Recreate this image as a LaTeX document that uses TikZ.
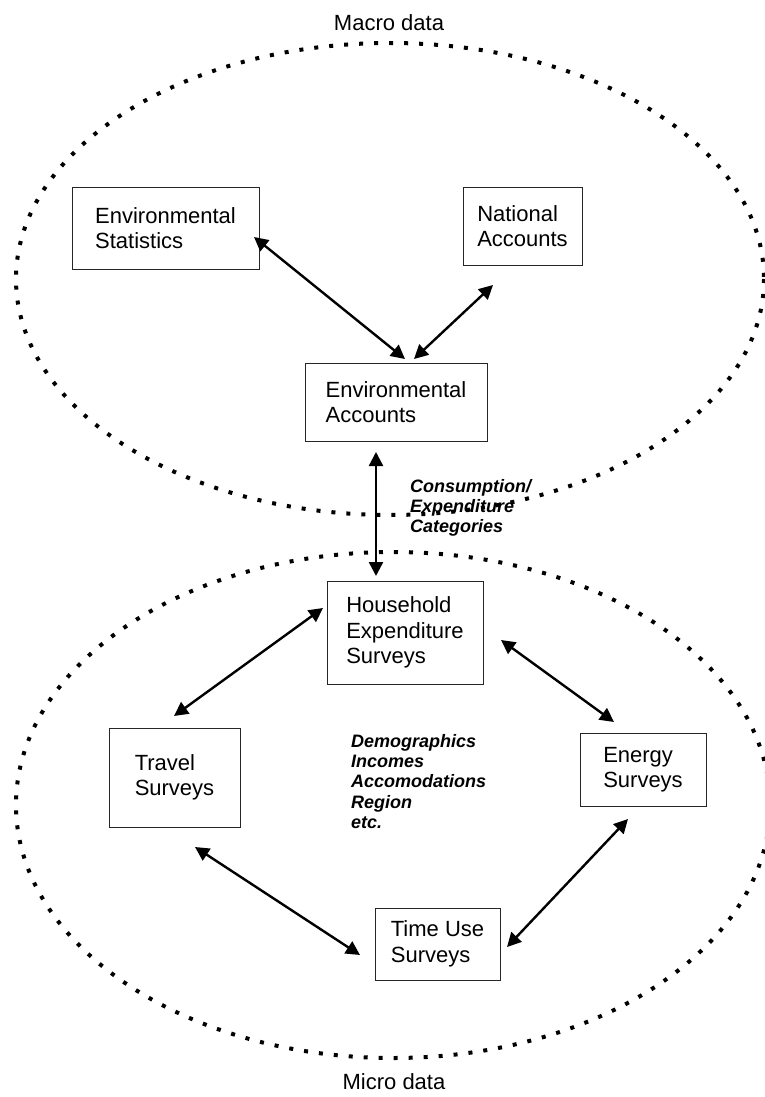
\documentclass[tikz,border=0pt]{standalone}
\usepackage{fontspec}
\setmainfont{Liberation Sans}
\usetikzlibrary{arrows.meta}
\begin{document}
\begin{tikzpicture}[x=1pt,y=-1pt,
  box/.style={draw=black!85, line width=1pt, inner sep=0pt, align=left,
    font=\fontsize{22}{25.5}\selectfont},
  link/.style={line width=2.4pt,
    {Triangle[length=14pt,width=14pt]}-{Triangle[length=14pt,width=14pt]}},
  region/.style={line width=4pt, dash pattern=on 4pt off 11pt},
  note/.style={font=\fontsize{18}{20.3}\selectfont\bfseries\itshape,
    align=left, inner sep=0pt, anchor=north west},
  caption/.style={font=\fontsize{22}{25}\selectfont, inner sep=0pt}]
\useasboundingbox (0,0) rectangle (765,1097);
\clip (0,0) rectangle (765,1097);

% dotted regions: macro level (top) and micro level (bottom)
\draw[region] (390,279) ellipse [x radius=374, y radius=236];
\draw[region] (393,805) ellipse [x radius=377, y radius=253];

\node[caption] (macro) at (389,23) {Macro data};
\node[caption] (micro) at (394,1082) {Micro data};

% data sources
\node[box, minimum width=187, minimum height=82] (es) at (165.5,228)
  {Environmental\\Statistics};
\node[box, minimum width=119, minimum height=78] (na) at (522.5,226)
  {National\\Accounts};
\node[box, minimum width=182, minimum height=78] (ea) at (396,402)
  {Environmental\\Accounts};
\node[box, minimum width=156, minimum height=103] (hh) at (405,632.5)
  {Household\\Expenditure\\Surveys};
\node[box, minimum width=131, minimum height=99] (tr) at (174.5,777.5)
  {Travel\\Surveys};
\node[box, minimum width=126, minimum height=73] (en) at (643,769.5)
  {Energy\\Surveys};
\node[box, minimum width=125, minimum height=72] (tu) at (437.5,944)
  {Time Use\\Surveys};

% annotations
\node[note] (cat) at (410,479) {Consumption/\\Expenditure\\Categories};
\node[note] (demo) at (351,734) {Demographics\\Incomes\\Accomodations\\Region\\etc.};

% arrow end points
\coordinate (es-ea) at (254,237);
\coordinate (ea-es) at (405,359);
\coordinate (na-ea) at (493,285);
\coordinate (ea-na) at (414,359);
\coordinate (ea-hh) at (376,452);
\coordinate (hh-ea) at (376,576);
\coordinate (hh-tr) at (323,608);
\coordinate (tr-hh) at (174,716);
\coordinate (hh-en) at (501,640);
\coordinate (en-hh) at (614,722);
\coordinate (tr-tu) at (195,847);
\coordinate (tu-tr) at (360,955);
\coordinate (en-tu) at (628,819);
\coordinate (tu-en) at (507,947);

\draw[link] (es-ea) -- (ea-es);
\draw[link] (na-ea) -- (ea-na);
\draw[link] (ea-hh) -- (hh-ea);
\draw[link] (hh-tr) -- (tr-hh);
\draw[link] (hh-en) -- (en-hh);
\draw[link] (tr-tu) -- (tu-tr);
\draw[link] (en-tu) -- (tu-en);
\end{tikzpicture}
\end{document}
